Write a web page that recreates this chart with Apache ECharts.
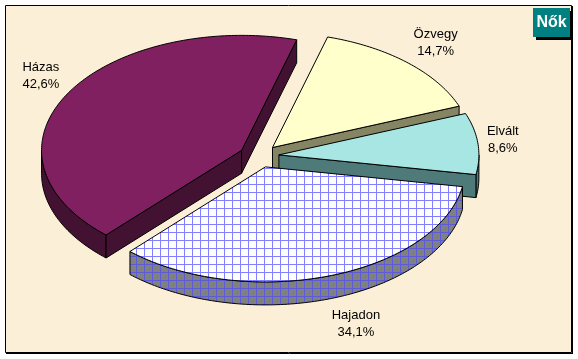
<!DOCTYPE html>
<html><head><meta charset="utf-8">
<script src="https://cdn.jsdelivr.net/npm/echarts@6/dist/echarts.min.js"></script>
<style>html,body{margin:0;padding:0;background:#ffffff}#c{width:578px;height:359px}</style>
</head><body><div id="c"></div>
<script>
// ---- data ----
const categories = ['Özvegy', 'Elvált', 'Hajadon', 'Házas'];
const values = [14.7, 8.6, 34.1, 42.6];
const percentLabels = ['14,7%', '8,6%', '34,1%', '42,6%'];
const titleText = 'Nők';

// ---- layout / style ----
const L = { cx: 259, cy: 156, rx: 200, ry: 115, depth: 23, explode: 0.1, start: 16, gapX: 9, gapY: 6, labelDy: 2 };
const FONT = '13px "Liberation Sans", Arial, sans-serif';
const LINE_H = 17;

function gridPattern(bg, line) {
  const c = document.createElement('canvas');
  c.width = 8; c.height = 8;
  const g = c.getContext('2d');
  g.fillStyle = bg; g.fillRect(0, 0, 8, 8);
  g.fillStyle = line; g.fillRect(0, 0, 8, 1); g.fillRect(0, 0, 1, 8);
  return { image: c, repeat: 'repeat' };
}
const topFills = ['#FFFFCC', '#A8E6E4', gridPattern('#FFFFFF', '#7F7FFF'), '#802060'];
const sideFills = ['#858563', '#4E7A79', gridPattern('#808080', '#5C5CD8'), '#431232'];

const total = values.reduce((a, b) => a + b, 0);
function sliceAngles(i) {
  let s = L.start;
  for (let k = 0; k < i; k++) s += values[k] / total * 360;
  return [s, s + values[i] / total * 360];
}
const RAD = Math.PI / 180;
function pt(ox, oy, deg, f) {
  f = f == null ? 1 : f;
  return [ox + f * L.rx * Math.sin(deg * RAD), oy - f * L.ry * Math.cos(deg * RAD)];
}
// drawing order: back slices first
const mids = values.map((v, i) => { const a = sliceAngles(i); return (a[0] + a[1]) / 2; });
const order = mids.map((m, i) => i).sort((a, b) => (-Math.cos(mids[a] * RAD)) - (-Math.cos(mids[b] * RAD)));
const rank = []; order.forEach((idx, r) => rank[idx] = r);

const mctx = document.createElement('canvas').getContext('2d');
mctx.font = FONT;

function renderItem(params, api) {
  const i = params.dataIndex;
  const [s, e] = sliceAngles(i);
  const m = (s + e) / 2;
  const ax = L.cx + L.explode * L.rx * Math.sin(m * RAD);
  const ay = L.cy - L.explode * L.ry * Math.cos(m * RAD);
  const arc = (a0, a1, dy) => {
    const pts = []; const n = Math.max(2, Math.ceil(a1 - a0));
    for (let k = 0; k <= n; k++) { const p = pt(ax, ay, a0 + (a1 - a0) * k / n); pts.push([p[0], p[1] + dy]); }
    return pts;
  };
  const base = rank[i] * 10;
  const stroke = { stroke: '#000000', lineWidth: 1 };
  const children = [];
  // outer wall (front-facing part)
  [[90, 270], [450, 630]].forEach(([lo, hi]) => {
    const a0 = Math.max(s, lo), a1 = Math.min(e, hi);
    if (a1 > a0) {
      const pts = arc(a0, a1, 0).concat(arc(a0, a1, L.depth).reverse());
      children.push({ type: 'polygon', shape: { points: pts }, style: Object.assign({ fill: sideFills[i] }, stroke), z2: base + 1 });
    }
  });
  // radial faces
  const quad = (a) => {
    const p = pt(ax, ay, a);
    return [[ax, ay], p, [p[0], p[1] + L.depth], [ax, ay + L.depth]];
  };
  if (Math.sin(s * RAD) < -1e-6) children.push({ type: 'polygon', shape: { points: quad(s) }, style: Object.assign({ fill: sideFills[i] }, stroke), z2: base + 2 });
  if (Math.sin(e * RAD) > 1e-6) children.push({ type: 'polygon', shape: { points: quad(e) }, style: Object.assign({ fill: sideFills[i] }, stroke), z2: base + 2 });
  // top face
  children.push({ type: 'polygon', shape: { points: [[ax, ay]].concat(arc(s, e, 0)) }, style: Object.assign({ fill: topFills[i] }, stroke), z2: base + 3 });
  // label
  const dx = Math.sin(m * RAD), dy = -Math.cos(m * RAD);
  const anc = pt(ax, ay, m);
  if (dy > 0) anc[1] += L.depth;
  const txt = categories[i] + '\n' + percentLabels[i];
  const w = Math.max(mctx.measureText(categories[i]).width, mctx.measureText(percentLabels[i]).width);
  const h = LINE_H * 2;
  const clamp = (x) => Math.max(-1, Math.min(1, x));
  const lx = anc[0] + dx * L.gapX + clamp(3 * dx) * w / 2;
  const ly = anc[1] + dy * L.gapY + clamp(3 * dy) * h / 2 + L.labelDy;
  children.push({ type: 'text', style: { text: txt, x: lx, y: ly, align: 'center', verticalAlign: 'middle', font: FONT, lineHeight: LINE_H, fill: '#000000' }, z2: 100 });
  return { type: 'group', children: children };
}

const chart = echarts.init(document.getElementById('c'), null, { renderer: 'canvas' });
chart.setOption({
  animation: false,
  backgroundColor: '#ffffff',
  graphic: [
    { type: 'rect', z: 0, shape: { x: 5.5, y: 5.5, width: 566, height: 347 }, style: { fill: '#FCEFD7', stroke: '#000000', lineWidth: 1 } },
    { type: 'line', z: 0, shape: { x1: 572.5, y1: 6, x2: 572.5, y2: 354 }, style: { stroke: '#000000', lineWidth: 1 } },
    { type: 'line', z: 0, shape: { x1: 6, y1: 353.5, x2: 573, y2: 353.5 }, style: { stroke: '#000000', lineWidth: 1 } },
    { type: 'rect', z: 5, shape: { x: 536, y: 11, width: 37, height: 29 }, style: { fill: '#000000' } },
    { type: 'rect', z: 6, shape: { x: 533, y: 8, width: 37, height: 29 }, style: { fill: '#008080' } },
    { type: 'text', z: 7, style: { text: titleText, x: 551.5, y: 22.5, align: 'center', verticalAlign: 'middle', font: 'bold 16px "Liberation Sans", Arial, sans-serif', fill: '#FFFFFF' } }
  ],
  series: [{
    type: 'custom',
    coordinateSystem: 'none',
    silent: true,
    z: 3,
    data: values.map((v, i) => ({ name: categories[i], value: v })),
    renderItem: renderItem
  }]
});
</script></body></html>
